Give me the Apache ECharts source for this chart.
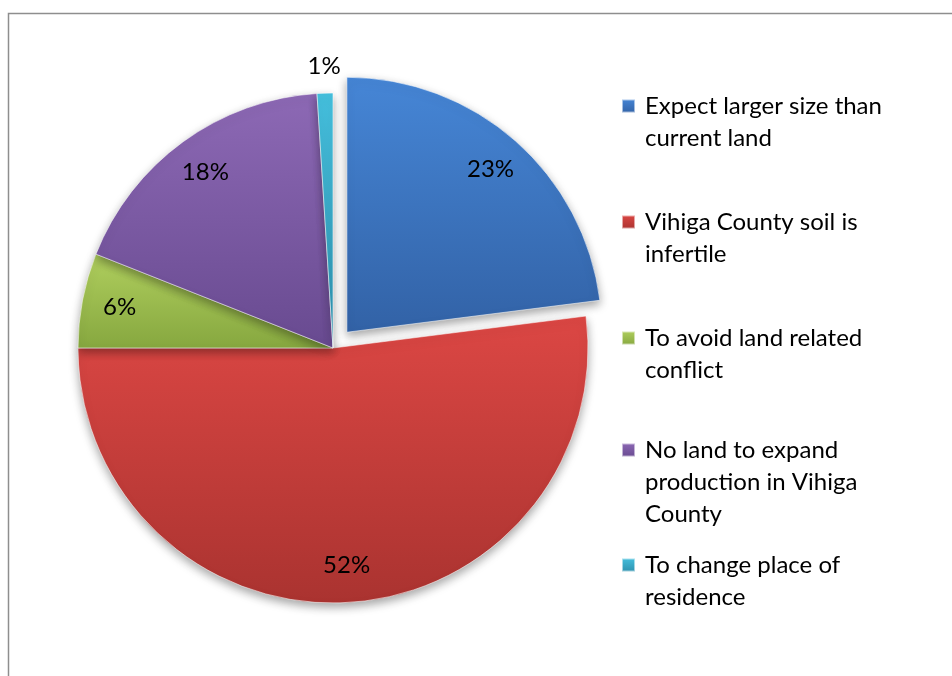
<!DOCTYPE html>
<html>
<head>
<meta charset="utf-8">
<script src="https://cdn.jsdelivr.net/npm/echarts@6/dist/echarts.min.js"></script>
<style>
  html, body { margin: 0; padding: 0; background: #fff; }
  #chart { width: 952px; height: 676px; }
</style>
</head>
<body>
<div id="chart"></div>
<script>
// Reasons given for seeking land outside Vihiga County (share of respondents, %)
const categories = [
  'Expect larger size than current land',
  'Vihiga County soil is infertile',
  'To avoid land related conflict',
  'No land to expand production in Vihiga County',
  'To change place of residence'
];
const shares = [23, 52, 6, 18, 1];
// Legend text as it wraps beside the pie
const legendLines = [
  ['Expect larger size than', 'current land'],
  ['Vihiga County soil is', 'infertile'],
  ['To avoid land related', 'conflict'],
  ['No land to expand', 'production in Vihiga', 'County'],
  ['To change place of', 'residence']
];
// Slice fills: lighter top, darker bottom
const fills = [
  ['#4686d6', '#3262a6'],
  ['#dc4744', '#aa3330'],
  ['#b0cf5e', '#86a73f'],
  ['#8d69b5', '#684a90'],
  ['#45c0de', '#2d90ad']
];

const FONT = 'Lato, "Open Sans", sans-serif';
const FS = 24;
const CX = 333, CY = 348, R = 255, EXPLODE = 21;
const LH = 32;
const legendCenters = [106, 222, 338, 450, 565];

function grad(pair) {
  return new echarts.graphic.LinearGradient(0, 0, 0, 1, [
    { offset: 0, color: pair[0] },
    { offset: 1, color: pair[1] }
  ]);
}

const pieData = categories.map((name, i) => ({
  name: name,
  value: shares[i],
  selected: i === 0,
  itemStyle: { color: grad(fills[i]) }
}));

const labelData = categories.map((name, i) => ({
  name: name,
  value: shares[i],
  selected: i === 0,
  label: { show: i !== 4 }
}));

const outerLabelData = categories.map((name, i) => ({
  name: name,
  value: shares[i],
  label: { show: i === 4 }
}));

// One legend block per category; leading blank lines keep the marker
// level with the first line of the (vertically centred) text block.
const legends = categories.map((name, i) => {
  const lines = legendLines[i];
  const n = lines.length;
  const lead = new Array(n - 1).fill(' ');
  return {
    data: [name],
    left: 621,
    top: legendCenters[i] - (2 * n - 1) * LH / 2,
    orient: 'vertical',
    padding: 0,
    icon: 'rect',
    itemWidth: 13,
    itemHeight: 13,
    selectedMode: false,
    formatter: () => lead.concat(lines).join('\n'),
    textStyle: {
      fontFamily: FONT,
      fontSize: FS,
      lineHeight: LH,
      color: '#000',
      padding: [0, 0, 0, 5]
    }
  };
});

const chart = echarts.init(document.getElementById('chart'), null, { renderer: 'canvas' });
chart.setOption({
  animation: false,
  backgroundColor: '#fff',
  legend: legends,
  graphic: [{
    type: 'rect',
    left: 6, top: 11,
    shape: { width: 960, height: 700 },
    style: { fill: 'none', stroke: '#8e8e8e', lineWidth: 1.5 },
    silent: true, z: 0
  }],
  series: [
    {
      type: 'pie',
      center: [CX, CY],
      radius: [0, R],
      startAngle: 90,
      clockwise: true,
      selectedMode: 'multiple',
      selectedOffset: EXPLODE,
      avoidLabelOverlap: false,
      label: { show: false },
      labelLine: { show: false },
      emphasis: { disabled: true },
      itemStyle: {
        borderColor: 'rgba(255,255,255,0.55)',
        borderWidth: 1,
        shadowBlur: 10,
        shadowOffsetY: 4,
        shadowColor: 'rgba(0,0,0,0.35)'
      },
      data: pieData,
      z: 2
    },
    {
      type: 'pie',
      center: [CX, CY],
      radius: [R * 0.68, R],
      startAngle: 90,
      clockwise: true,
      selectedMode: 'multiple',
      selectedOffset: EXPLODE,
      silent: true,
      itemStyle: { color: 'rgba(0,0,0,0)' },
      label: {
        show: true,
        position: 'inside',
        formatter: '{c}%',
        fontFamily: FONT,
        fontSize: FS,
        color: '#000'
      },
      labelLine: { show: false },
      emphasis: { disabled: true },
      data: labelData,
      z: 3
    },
    {
      type: 'pie',
      center: [CX, CY],
      radius: [R + 10, R + 38],
      startAngle: 90,
      clockwise: true,
      silent: true,
      itemStyle: { color: 'rgba(0,0,0,0)' },
      label: {
        show: false,
        position: 'inside',
        formatter: '{c}%',
        fontFamily: FONT,
        fontSize: FS,
        color: '#000'
      },
      labelLine: { show: false },
      emphasis: { disabled: true },
      data: outerLabelData,
      z: 3
    }
  ]
});
</script>
</body>
</html>
